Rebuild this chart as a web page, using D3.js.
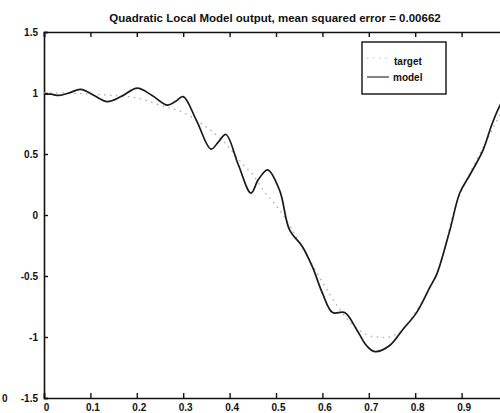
<!DOCTYPE html>
<html>
<head>
<meta charset="utf-8">
<script src="https://cdn.jsdelivr.net/npm/d3@7"></script>
<style>
  html, body { margin: 0; padding: 0; background: #fff; }
  svg { display: block; }
  text { font-family: "Liberation Sans", Arial, Helvetica, sans-serif; font-weight: bold; fill: #111; }
</style>
</head>
<body>
<script>
// ---- data ----
const modelX = [0, 0.015, 0.032, 0.054, 0.079, 0.108, 0.136, 0.168, 0.201, 0.233, 0.266, 0.283, 0.300,
  0.328, 0.360, 0.376, 0.392, 0.419, 0.446, 0.462, 0.482, 0.508, 0.529, 0.557, 0.579, 0.600, 0.622,
  0.648, 0.674, 0.695, 0.713, 0.745, 0.773, 0.803, 0.832, 0.847, 0.875, 0.896, 0.918, 0.946, 0.965, 0.983, 1.0];
const modelY = [0.99, 0.99, 0.98, 1.00, 1.03, 0.98, 0.93, 0.975, 1.04, 0.98, 0.90, 0.93, 0.97,
  0.78, 0.54, 0.60, 0.66, 0.41, 0.18, 0.29, 0.37, 0.20, -0.12, -0.26, -0.43, -0.64, -0.80,
  -0.80, -0.94, -1.07, -1.12, -1.07, -0.94, -0.80, -0.59, -0.48, -0.12, 0.18, 0.33, 0.53, 0.74, 0.90, 1.01];
const targetX = [0, 0.05, 0.1, 0.15, 0.2, 0.25, 0.3, 0.35, 0.39, 0.425, 0.45, 0.475, 0.5, 0.525, 0.55,
  0.6, 0.633, 0.66, 0.695, 0.72, 0.745, 0.773, 0.8, 0.85, 0.88, 0.9, 0.95, 1.0];
const targetY = [1.0, 1.0, 0.99, 0.98, 0.96, 0.9, 0.84, 0.72, 0.59, 0.43, 0.33, 0.19, 0.08, -0.06, -0.22,
  -0.55, -0.75, -0.88, -0.98, -1.0, -1.0, -0.94, -0.8, -0.45, -0.02, 0.2, 0.58, 0.95];
const xTicks = [0, 0.1, 0.2, 0.3, 0.4, 0.5, 0.6, 0.7, 0.8, 0.9];
const yTicks = [-1.5, -1, -0.5, 0, 0.5, 1, 1.5];
const titleText = "Quadratic Local Model output, mean squared error = 0.00662";
const legendLabels = ["target", "model"];

// ---- layout ----
const W = 500, H = 413;
const svg = d3.select("body").append("svg").attr("width", W).attr("height", H);

const x = d3.scaleLinear().domain([0, 1]).range([44, 508]);
const y = d3.scaleLinear().domain([-1.5, 1.5]).range([398, 32]);

// title
svg.append("text").attr("x", 275).attr("y", 22).attr("text-anchor", "middle")
  .attr("font-size", 11.5).text(titleText);

// stray mark at far left (from the scanned page)
svg.append("text").attr("x", 2).attr("y", 402).attr("font-size", 10).text("0");

// axes box (right side lies outside the picture)
const fmt = d => String(d);
const axB = d3.axisBottom(x).tickValues(xTicks).tickSize(-5).tickFormat(fmt);
const axT = d3.axisTop(x).tickValues(xTicks).tickSize(-5).tickFormat("");
const axL = d3.axisLeft(y).tickValues(yTicks).tickSize(-4).tickPadding(6).tickFormat(fmt);

const gB = svg.append("g").attr("transform", `translate(0,${y(-1.5)})`).call(axB);
const gT = svg.append("g").attr("transform", `translate(0,${y(1.5)})`).call(axT);
const gL = svg.append("g").attr("transform", `translate(${x(0)},0)`).call(axL);
[gB, gT, gL].forEach(g => {
  g.select(".domain").attr("stroke", "#111").attr("stroke-width", 1.6);
  g.selectAll(".tick line").attr("stroke", "#111").attr("stroke-width", 1.4);
  g.selectAll("text").attr("font-size", 10).attr("font-family", "Liberation Sans, Arial, sans-serif")
    .attr("font-weight", "bold").attr("fill", "#111");
});
gB.selectAll(".tick text").attr("y", 13).attr("dy", null).attr("dx", 2);

// target (faint dotted)
const tData = targetX.map((v, i) => [v, targetY[i]]);
const mData = modelX.map((v, i) => [v, modelY[i]]);
const line = d3.line().x(d => x(d[0])).y(d => y(d[1])).curve(d3.curveCatmullRom.alpha(0.5));

svg.append("path").datum(tData).attr("d", line).attr("fill", "none")
  .attr("stroke", "#aaa").attr("stroke-width", 1.3).attr("stroke-dasharray", "1.5,4.5");

svg.append("path").datum(mData).attr("d", line).attr("fill", "none")
  .attr("stroke", "#1a1a1a").attr("stroke-width", 1.7).attr("stroke-linejoin", "round");

// legend
const lg = svg.append("g");
lg.append("rect").attr("x", 362).attr("y", 42).attr("width", 84).attr("height", 52)
  .attr("fill", "#fff").attr("stroke", "#111").attr("stroke-width", 1.4);
lg.append("line").attr("x1", 367).attr("x2", 389).attr("y1", 58).attr("y2", 58)
  .attr("stroke", "#bbb").attr("stroke-width", 1.2).attr("stroke-dasharray", "1.5,4.5");
lg.append("line").attr("x1", 367).attr("x2", 389).attr("y1", 77).attr("y2", 77)
  .attr("stroke", "#333").attr("stroke-width", 1.2);
lg.append("text").attr("x", 394).attr("y", 65).attr("font-size", 10).text(legendLabels[0]);
lg.append("text").attr("x", 393).attr("y", 80.5).attr("font-size", 10).text(legendLabels[1]);
</script>
</body>
</html>
